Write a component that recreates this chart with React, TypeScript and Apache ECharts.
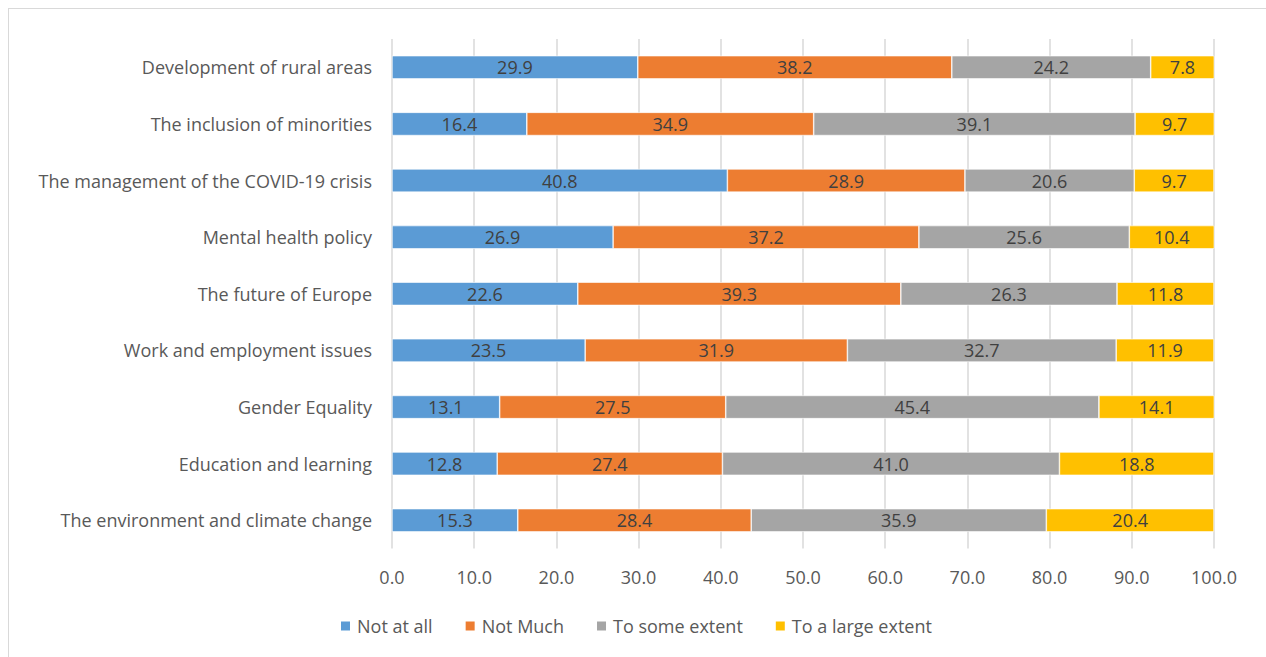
import React, { useEffect, useRef } from "react";
import * as echarts from "echarts";

// Topics, listed top to bottom as they appear on the chart
const categories = [
  "Development of rural areas",
  "The inclusion of minorities",
  "The management of the COVID-19 crisis",
  "Mental health policy",
  "The future of Europe",
  "Work and employment issues",
  "Gender Equality",
  "Education and learning",
  "The environment and climate change",
];

const seriesNames = ["Not at all", "Not Much", "To some extent", "To a large extent"];

const notAtAll = [29.9, 16.4, 40.8, 26.9, 22.6, 23.5, 13.1, 12.8, 15.3];
const notMuch = [38.2, 34.9, 28.9, 37.2, 39.3, 31.9, 27.5, 27.4, 28.4];
const toSomeExtent = [24.2, 39.1, 20.6, 25.6, 26.3, 32.7, 45.4, 41.0, 35.9];
const toALargeExtent = [7.8, 9.7, 9.7, 10.4, 11.8, 11.9, 14.1, 18.8, 20.4];

const seriesValues = [notAtAll, notMuch, toSomeExtent, toALargeExtent];
const colors = ["#5B9BD5", "#ED7D31", "#A5A5A5", "#FFC000"];

const FONT = "'Open Sans', sans-serif";
const FS = 18;

export default function App() {
  const ref = useRef<HTMLDivElement>(null);

  useEffect(() => {
    if (!ref.current) return;
    const chart = echarts.init(ref.current, null, { renderer: "svg" });
    chart.setOption({
      animation: false,
      backgroundColor: "#ffffff",
      textStyle: { fontFamily: FONT },
      grid: { left: 383, top: 30, width: 822, height: 509.6, containLabel: false },
      legend: {
        data: seriesNames,
        top: 608,
        left: 330,
        padding: 0,
        itemWidth: 11,
        itemHeight: 11,
        itemGap: 31,
        icon: "rect",
        textStyle: { fontFamily: FONT, fontSize: FS, color: "#595959", padding: [0, 0, 0, 1] },
      },
      xAxis: {
        type: "value",
        min: 0,
        max: 100,
        interval: 10,
        axisLine: { show: false },
        axisTick: { show: false },
        splitLine: { show: true, lineStyle: { color: "#d9d9d9", width: 1.5 } },
        axisLabel: {
          margin: 19,
          fontFamily: FONT,
          fontSize: FS,
          color: "#595959",
          formatter: (v: number) => v.toFixed(1),
        },
      },
      yAxis: {
        type: "category",
        data: categories,
        inverse: true,
        axisLine: { show: false },
        axisTick: { show: false },
        splitLine: { show: false },
        axisLabel: { margin: 20, fontFamily: FONT, fontSize: FS, color: "#595959" },
      },
      series: seriesNames.map((name, i) => ({
        name,
        type: "bar",
        stack: "total",
        barWidth: "41%",
        data: seriesValues[i],
        itemStyle: { color: colors[i], borderColor: "#ffffff", borderWidth: 0.6 },
        label: {
          show: true,
          position: "inside",
          fontFamily: FONT,
          fontSize: FS,
          color: "#404040",
          formatter: (p: any) => Number(p.value).toFixed(1),
        },
      })),
    });
    return () => chart.dispose();
  }, []);

  return (
    <div
      style={{
        position: "fixed",
        left: 8,
        top: 8,
        width: 1258,
        height: 649,
        overflow: "hidden",
      }}
    >
      <div
        ref={ref}
        style={{
          width: 1264,
          height: 655,
          border: "1px solid #d9d9d9",
          boxSizing: "border-box",
        }}
      />
    </div>
  );
}
